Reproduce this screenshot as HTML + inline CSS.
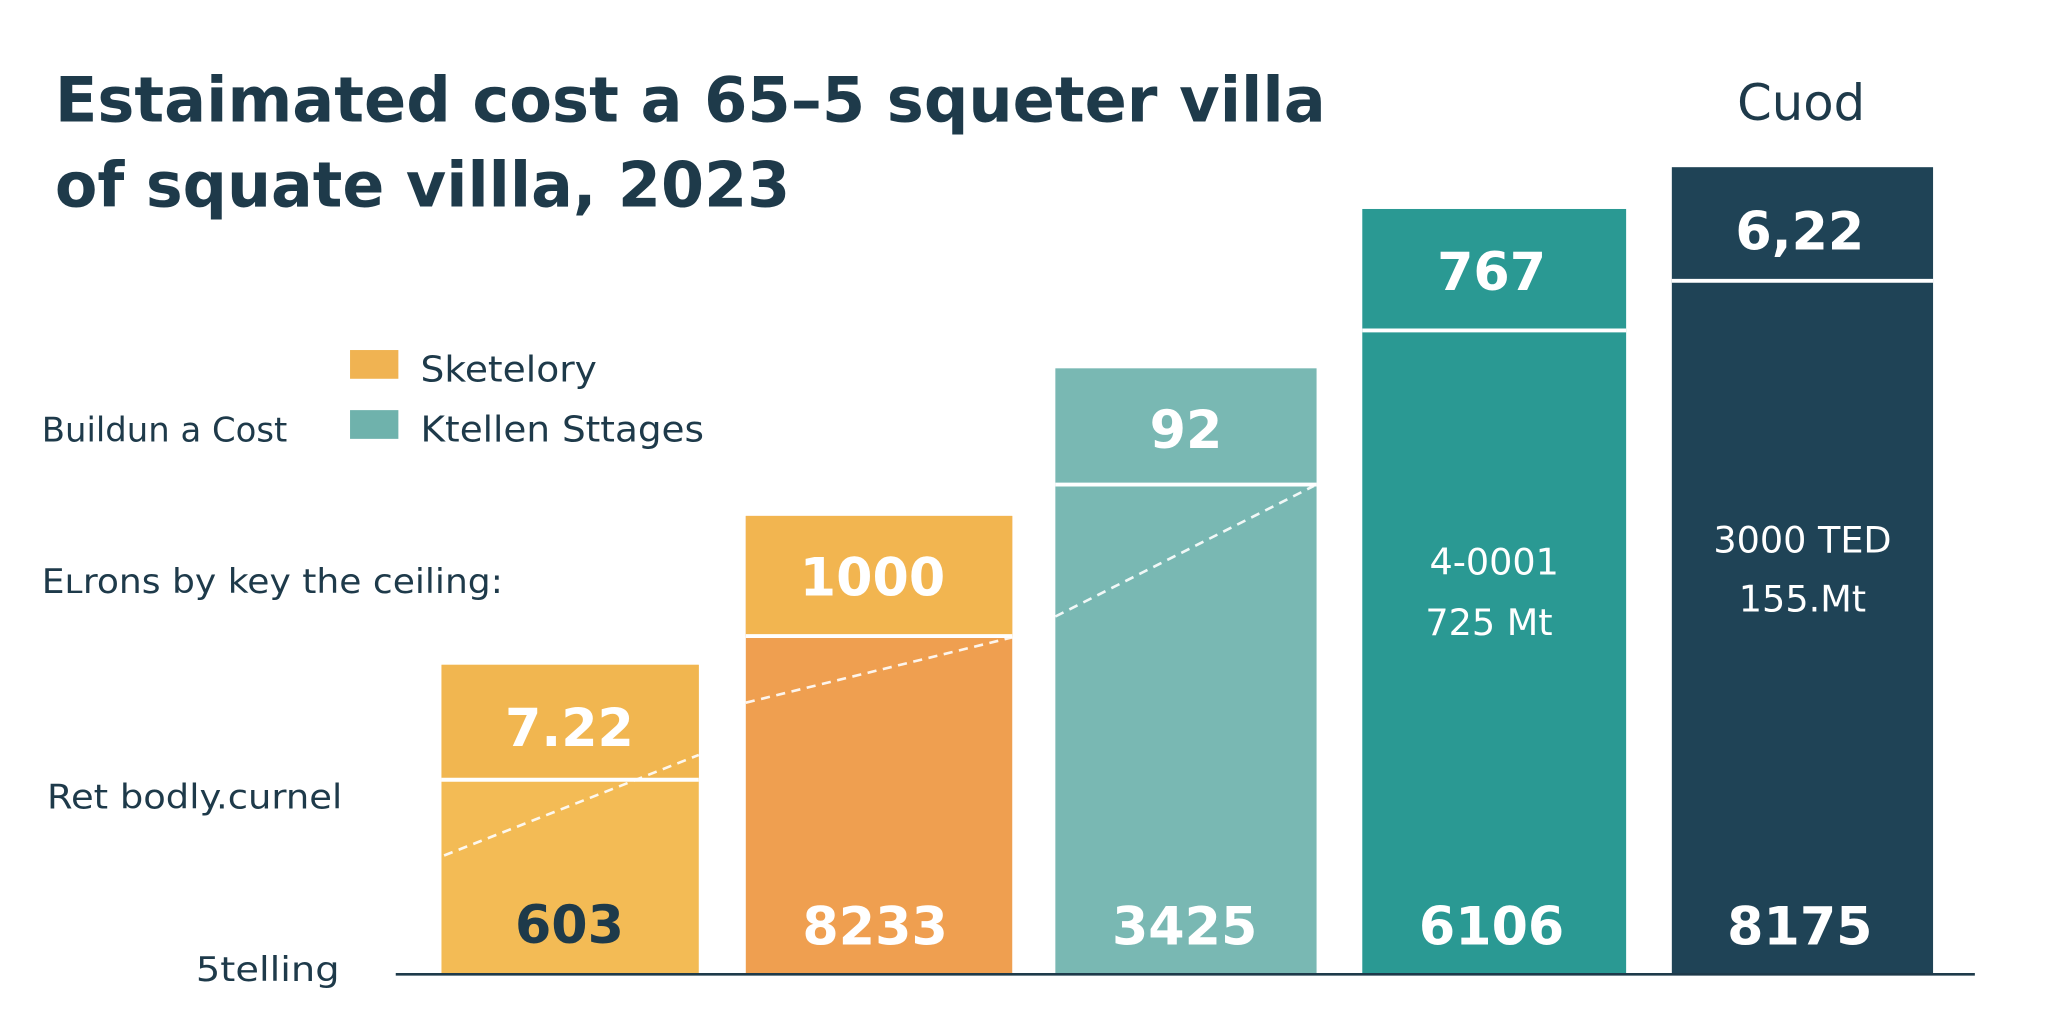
<!DOCTYPE html>
<html><head><meta charset="utf-8"><style>
html,body{margin:0;padding:0;background:#fff;width:2048px;height:1024px;overflow:hidden}
svg{display:block}
text{font-family:"DejaVu Sans","Liberation Sans",sans-serif}
</style></head><body>
<svg width="2048" height="1024" viewBox="0 0 1568 784" preserveAspectRatio="none">
<rect width="1568" height="784" fill="#fff"/>
<text x="42" y="93" font-size="48" font-weight="bold" fill="#1e3a4a" textLength="973" lengthAdjust="spacingAndGlyphs">Estaimated cost a 65–5 squeter villa</text>
<text x="42" y="158" font-size="48" font-weight="bold" fill="#1e3a4a" textLength="563" lengthAdjust="spacingAndGlyphs">of squate villla, 2023</text>
<text x="1330" y="92" font-size="38" fill="#1e3a4a" textLength="98" lengthAdjust="spacingAndGlyphs">Cuod</text>
<rect x="268" y="268" width="37" height="22" fill="#f0b352"/>
<text x="322" y="292" font-size="27" fill="#1e3a4a" textLength="135" lengthAdjust="spacingAndGlyphs">Sketelory</text>
<rect x="268" y="314" width="37" height="22" fill="#6fb2ac"/>
<text x="322" y="338" font-size="27" fill="#1e3a4a" textLength="217" lengthAdjust="spacingAndGlyphs">Ktellen Sttages</text>
<text x="32" y="338" font-size="26" fill="#1e3a4a" textLength="188" lengthAdjust="spacingAndGlyphs">Buildun a Cost</text>
<text x="32" y="454" font-size="26" fill="#1e3a4a" textLength="353" lengthAdjust="spacingAndGlyphs">Eʟrons by key the ceiling:</text>
<text x="36" y="619" font-size="26" fill="#1e3a4a" textLength="226" lengthAdjust="spacingAndGlyphs">Ret bodly.curnel</text>
<text x="150" y="751" font-size="26" fill="#1e3a4a" textLength="110" lengthAdjust="spacingAndGlyphs">5telling</text>
<rect x="338" y="509" width="197" height="237" fill="#f3bb55"/>
<rect x="338" y="509" width="197" height="88" fill="#f1b650"/>
<rect x="571" y="395" width="204" height="351" fill="#ef9f50"/>
<rect x="571" y="395" width="204" height="92" fill="#f2b550"/>
<rect x="808" y="282" width="200" height="464" fill="#79b8b3"/>
<rect x="1043" y="160" width="202" height="586" fill="#2a9993"/>
<rect x="1280" y="128" width="200" height="618" fill="#1f4356"/>
<g stroke="#fff" stroke-width="3">
<line x1="338" y1="597" x2="535" y2="597"/>
<line x1="571" y1="487" x2="775" y2="487"/>
<line x1="808" y1="371" x2="1008" y2="371"/>
<line x1="1043" y1="253" x2="1245" y2="253"/>
<line x1="1280" y1="215" x2="1480" y2="215"/>
</g>
<g stroke="#fff" stroke-width="2" stroke-dasharray="7,5" opacity="0.9">
<line x1="340" y1="655" x2="535" y2="578"/>
<line x1="571" y1="538" x2="775" y2="488"/>
<line x1="808" y1="472" x2="1006" y2="372"/>
</g>
<line x1="303" y1="746" x2="1512" y2="746" stroke="#1e3a4a" stroke-width="2"/>
<g font-size="40" font-weight="bold" text-anchor="middle">
<text x="436" y="571" fill="#fff">7.22</text>
<text x="436" y="722" fill="#1e3a4a">603</text>
<text x="668" y="456" fill="#fff">1000</text>
<text x="670" y="723" fill="#fff">8233</text>
<text x="908" y="343" fill="#fff">92</text>
<text x="907" y="723" fill="#fff">3425</text>
<text x="1142" y="222" fill="#fff">767</text>
<text x="1142" y="723" fill="#fff">6106</text>
<text x="1378" y="191" fill="#fff">6,22</text>
<text x="1378" y="723" fill="#fff">8175</text>
</g>
<g font-size="28" text-anchor="middle" fill="#fff">
<text x="1144" y="440">4-0001</text>
<text x="1140" y="486">725 Mt</text>
<text x="1380" y="423">3000 TED</text>
<text x="1380" y="468">155.Mt</text>
</g>
</svg>
</body></html>
